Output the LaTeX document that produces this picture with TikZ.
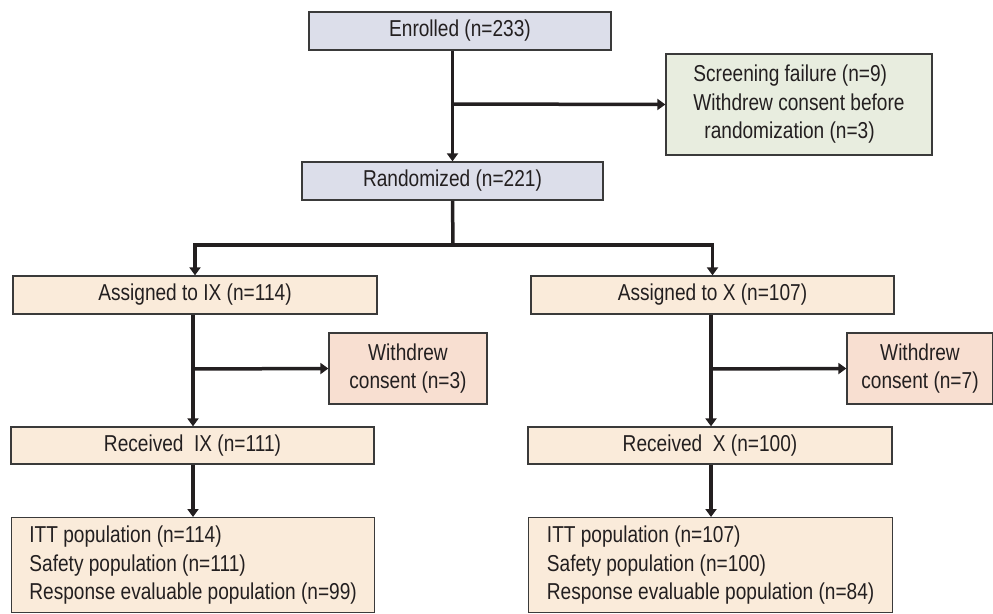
\documentclass[tikz,border=0pt]{standalone}
\usepackage{fontspec}
\setmainfont{Liberation Sans}[FakeStretch=0.83]
\usetikzlibrary{arrows.meta}
\definecolor{boxline}{HTML}{3A3A3A}
\definecolor{txt}{HTML}{231F20}
\definecolor{topfill}{HTML}{DCDEEA}
\definecolor{scrfill}{HTML}{E8EDDF}
\definecolor{armfill}{HTML}{FAEBDA}
\definecolor{wdfill}{HTML}{F8DFD1}
\tikzset{
  flowbox/.style={draw=boxline, line width=1.3pt, inner sep=0pt, text=txt,
    font=\fontsize{23}{28.5}\selectfont, align=center},
  flowline/.style={line width=3.5pt, draw=txt},
  flowarrow/.style={flowline, -{Triangle[length=8pt,width=11pt]}}
}
\begin{document}
\begin{tikzpicture}[x=1pt, y=-1pt]
\useasboundingbox (0,0) rectangle (993,613);
% top part
\node[flowbox, fill=topfill, minimum width=302pt, minimum height=38pt] (enr) at (460,31) {Enrolled (n=233)};
\node[flowbox, fill=topfill, minimum width=301pt, minimum height=38pt] (rand) at (452.5,181) {Randomized (n=221)};
\node[flowbox, fill=scrfill, minimum width=266pt, minimum height=101pt, align=left] (scr) at (799,104.5) {Screening failure (n=9)\\Withdrew consent before\\\hspace*{11pt}randomization (n=3)};
% arms
\node[flowbox, fill=armfill, minimum width=364pt, minimum height=38pt] (asgA) at (195,295) {Assigned to IX (n=114)};
\node[flowbox, fill=armfill, minimum width=363pt, minimum height=38pt] (asgB) at (712.5,295) {Assigned to X (n=107)};
\node[flowbox, fill=wdfill, minimum width=158pt, minimum height=71pt] (wdA) at (408,368.5) {Withdrew\\consent (n=3)};
\node[flowbox, fill=wdfill, minimum width=146pt, minimum height=71pt] (wdB) at (920,368.5) {Withdrew\\consent (n=7)};
\node[flowbox, fill=armfill, minimum width=363pt, minimum height=37pt] (recA) at (192.5,445.5) {Received~ IX (n=111)};
\node[flowbox, fill=armfill, minimum width=364pt, minimum height=37pt] (recB) at (710,445.5) {Received~ X (n=100)};
\node[flowbox, fill=armfill, minimum width=363pt, minimum height=95pt, align=left, anchor=north west] (popA) at (11,517) {ITT population (n=114)\\Safety population (n=111)\\Response evaluable population (n=99)};
\node[flowbox, fill=armfill, minimum width=364pt, minimum height=95pt, align=left, anchor=north west] (popB) at (528,517) {ITT population (n=107)\\Safety population (n=100)\\Response evaluable population (n=84)};
% connectors
\coordinate (brk1) at (453,104);
\coordinate (split) at (453,245);
\draw[flowarrow] (rand.north |- enr.south) -- (rand.north);
\draw[flowarrow] (brk1) -- (scr.west);
\draw[flowline] (rand.south) -- (split);
\draw[flowarrow] (split) -| (asgA.north);
\draw[flowarrow] (split) -| (asgB.north);
\coordinate (brkA) at (193,369);
\coordinate (brkB) at (711,369);
\draw[flowarrow] (asgA.south -| brkA) -- (recA.north -| brkA);
\draw[flowarrow] (brkA) -- (wdA.west);
\draw[flowarrow] (asgB.south -| brkB) -- (recB.north -| brkB);
\draw[flowarrow] (brkB) -- (wdB.west);
\draw[flowarrow] (recA.south -| brkA) -- (popA.north -| brkA);
\draw[flowarrow] (recB.south -| brkB) -- (popB.north -| brkB);
\end{tikzpicture}
\end{document}
